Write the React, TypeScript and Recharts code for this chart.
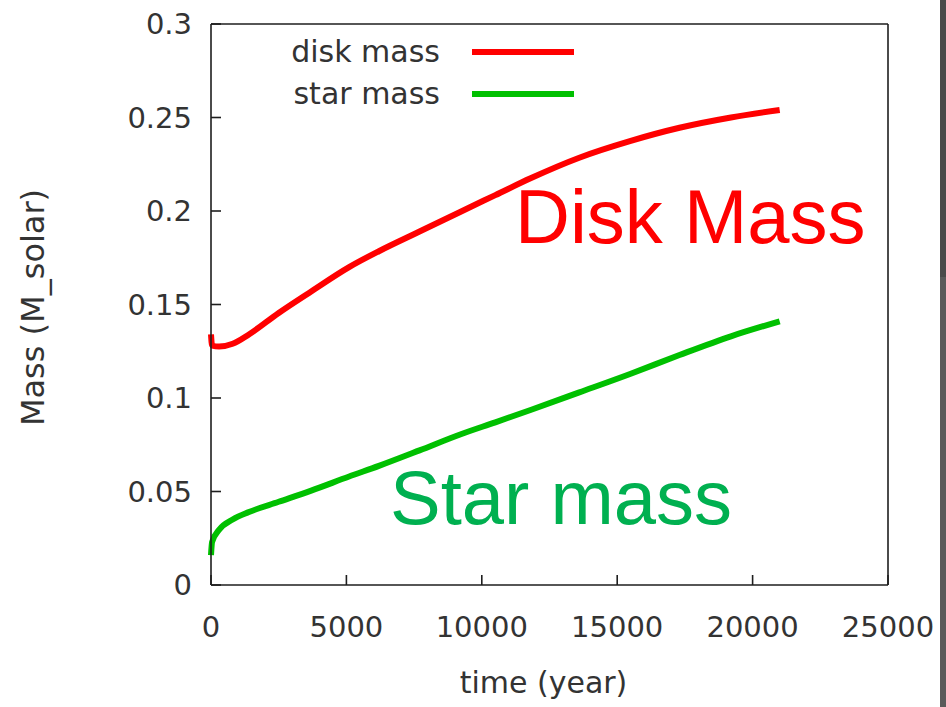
import React from 'react';
import { LineChart, Line, XAxis, YAxis, Legend, Label } from 'recharts';

// Simulation output: time in years, masses in solar masses
const years = [0, 40, 300, 800, 1400, 2500, 3700, 5100, 6200, 7700, 9200, 10500, 11800, 13600, 15500, 17300, 19200, 21000];
const diskMass = [0.134, 0.128, 0.1275, 0.129, 0.134, 0.1455, 0.157, 0.17, 0.1785, 0.189, 0.1995, 0.2085, 0.2175, 0.2285, 0.2375, 0.2445, 0.25, 0.254];
const starMass = [0.016, 0.023, 0.0295, 0.035, 0.039, 0.0445, 0.0505, 0.058, 0.0637, 0.072, 0.0805, 0.087, 0.0936, 0.103, 0.113, 0.123, 0.133, 0.141];

const xTicks = [0, 5000, 10000, 15000, 20000, 25000];
const yTicks = [0, 0.05, 0.1, 0.15, 0.2, 0.25, 0.3];

const seriesNames = { disk: 'disk mass', star: 'star mass' };
const annotations = { disk: 'Disk Mass', star: 'Star mass' };

const data = years.map((t, i) => ({ t, disk: diskMass[i], star: starMass[i] }));

const FONT = '"DejaVu Sans", sans-serif';
const INK = '#1e1e1e';
const TEXT = '#333333';
const RED = '#ff0000';
const GREEN = '#00c000';
const LINE_W = 6;

const tickStyle = { fontFamily: FONT, fontSize: 29, fill: TEXT };

function KeyBox(props: any) {
  const items = props.payload || [];
  return (
    <svg width={946} height={120} style={{ display: 'block' }}>
      {items.map((it: any, i: number) => (
        <g key={it.value}>
          <text x={440} y={62 + i * 42} textAnchor="end" fontFamily={FONT} fontSize={30} fill={TEXT}>
            {it.value}
          </text>
          <line x1={472} x2={574} y1={52 + i * 42} y2={52 + i * 42} stroke={it.color} strokeWidth={LINE_W} />
        </g>
      ))}
    </svg>
  );
}

export default function App() {
  return (
    <div style={{ position: 'absolute', left: 0, top: 0, width: 946, height: 707, background: '#fff', overflow: 'hidden' }}>
      <LineChart
        width={946}
        height={707}
        data={data}
        margin={{ top: 23, right: 57, bottom: 22, left: 0 }}
      >
        <XAxis
          xAxisId="b"
          dataKey="t"
          type="number"
          domain={[0, 25000]}
          ticks={xTicks}
          orientation="bottom"
          height={100}
          tickSize={-10}
          tickMargin={41}
          tick={tickStyle}
          stroke={INK}
          strokeWidth={1.6}
          interval={0}
        >
          <Label
            content={(p: any) => (
              <text
                x={p.viewBox.x + p.viewBox.width / 2 - 6}
                y={693}
                textAnchor="middle"
                fontFamily={FONT}
                fontSize={30}
                fill={TEXT}
              >
                time (year)
              </text>
            )}
          />
        </XAxis>
        <XAxis
          xAxisId="t"
          dataKey="t"
          type="number"
          domain={[0, 25000]}
          ticks={xTicks}
          orientation="top"
          height={1}
          tickSize={-10}
          tick={false}
          stroke={INK}
          strokeWidth={1.6}
          interval={0}
        />
        <YAxis
          yAxisId="l"
          type="number"
          domain={[0, 0.3]}
          ticks={yTicks}
          width={211}
          tickSize={-10}
          tickMargin={29}
          tick={tickStyle}
          stroke={INK}
          strokeWidth={1.6}
          interval={0}
        >
          <Label
            content={(p: any) => {
              const cx = 44;
              const cy = p.viewBox.y + p.viewBox.height / 2 + 3;
              return (
                <text
                  x={cx}
                  y={cy}
                  transform={`rotate(-90 ${cx} ${cy})`}
                  textAnchor="middle"
                  fontFamily={FONT}
                  fontSize={32}
                  fill={TEXT}
                >
                  Mass (M_solar)
                </text>
              );
            }}
          />
        </YAxis>
        <YAxis
          yAxisId="r"
          type="number"
          orientation="right"
          domain={[0, 0.3]}
          ticks={yTicks}
          width={1}
          tickSize={-10}
          tick={false}
          stroke={INK}
          strokeWidth={1.6}
          interval={0}
        />
        <Legend
          layout="vertical"
          align="center"
          verticalAlign="middle"
          content={<KeyBox />}
          wrapperStyle={{ position: 'absolute', left: 0, top: 0, width: 946, height: 120, pointerEvents: 'none' }}
        />
        <Line
          xAxisId="b"
          yAxisId="l"
          dataKey="disk"
          name={seriesNames.disk}
          type="monotone"
          stroke={RED}
          strokeWidth={LINE_W}
          dot={false}
          activeDot={false}
          isAnimationActive={false}
        />
        <Line
          xAxisId="b"
          yAxisId="l"
          dataKey="star"
          name={seriesNames.star}
          type="monotone"
          stroke={GREEN}
          strokeWidth={LINE_W}
          dot={false}
          activeDot={false}
          isAnimationActive={false}
        />
      </LineChart>
      <svg
        width={946}
        height={707}
        style={{ position: 'absolute', left: 0, top: 0, pointerEvents: 'none' }}
      >
        <text x={515} y={243} fontFamily='"Liberation Sans", Arial, sans-serif' fontSize={76} fill={RED}>
          {annotations.disk}
        </text>
        <text x={390} y={524} fontFamily='"Liberation Sans", Arial, sans-serif' fontSize={76} fill="#00b050">
          {annotations.star}
        </text>
      </svg>
      <div style={{ position: 'absolute', left: 940, top: 0, width: 6, height: 277, background: '#4a4a4a' }} />
      <div style={{ position: 'absolute', left: 940, top: 277, width: 6, height: 430, background: '#5a5a5a' }} />
    </div>
  );
}
